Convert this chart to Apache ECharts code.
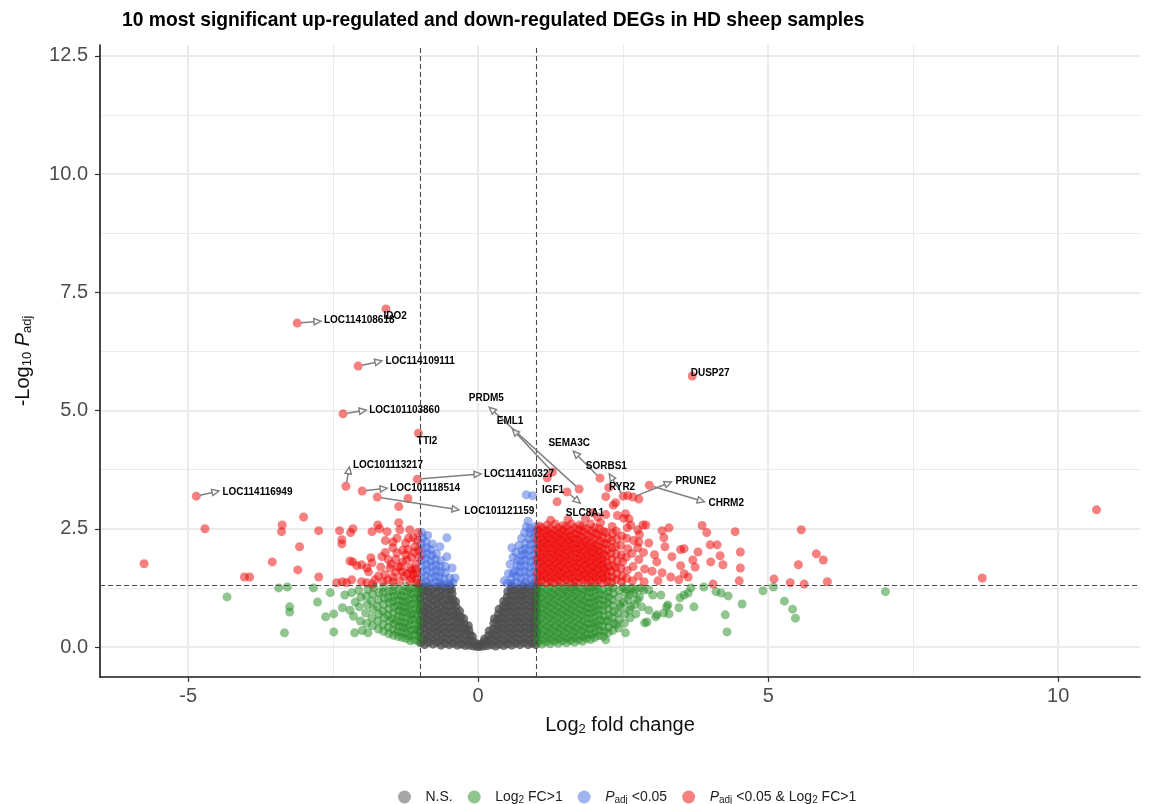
<!DOCTYPE html>
<html><head><meta charset="utf-8">
<script src="https://cdn.jsdelivr.net/npm/echarts@6/dist/echarts.min.js"></script>
<style>html,body{margin:0;padding:0;background:#fff}#c{width:1154px;height:804px}</style>
</head><body><div id="c"></div>
<script>
// ---------- axis ticks / cut-offs ----------
const xMajorTicks = [-5, 0, 5, 10];
const xMinorTicks = [-2.5, 2.5, 7.5];
const yMajorTicks = [0, 2.5, 5, 7.5, 10, 12.5];
const yMinorTicks = [1.25, 3.75, 6.25, 8.75, 11.25];
const fcCutoffs = [-1, 1];
const pCutoff = 1.301;

// ---------- N.S. (grey) ----------
const nsPoints = [
[-0.99,0.09],[-0.98,0.21],[-1.0,0.33],[-0.98,0.44],[-0.99,0.56],[-0.97,0.68],[-0.99,0.79],[-0.98,0.91],[-1.0,1.03],[-0.98,1.14],[-0.99,1.26],
[-0.92,0.05],[-0.93,0.16],[-0.91,0.27],[-0.92,0.39],[-0.94,0.5],[-0.91,0.62],[-0.93,0.74],[-0.92,0.85],[-0.9,0.97],[-0.93,1.08],[-0.92,1.2],[-0.91,1.29],
[-0.85,0.1],[-0.86,0.22],[-0.84,0.34],[-0.85,0.45],[-0.87,0.57],[-0.84,0.69],[-0.86,0.8],[-0.85,0.92],[-0.83,1.04],[-0.86,1.16],[-0.85,1.27],
[-0.78,0.06],[-0.79,0.17],[-0.77,0.29],[-0.78,0.4],[-0.8,0.52],[-0.77,0.63],[-0.79,0.75],[-0.78,0.87],[-0.76,0.98],[-0.79,1.1],[-0.78,1.22],
[-0.71,0.1],[-0.72,0.21],[-0.7,0.33],[-0.71,0.45],[-0.73,0.56],[-0.7,0.68],[-0.72,0.8],[-0.71,0.91],[-0.69,1.03],[-0.72,1.15],[-0.71,1.27],
[-0.64,0.04],[-0.65,0.15],[-0.63,0.27],[-0.64,0.38],[-0.66,0.5],[-0.63,0.62],[-0.65,0.73],[-0.64,0.85],[-0.62,0.96],[-0.65,1.08],[-0.64,1.2],[-0.63,1.29],
[-0.57,0.08],[-0.58,0.19],[-0.56,0.31],[-0.57,0.43],[-0.59,0.54],[-0.56,0.66],[-0.58,0.77],[-0.57,0.89],[-0.55,1.01],[-0.58,1.13],[-0.57,1.25],
[-0.5,0.05],[-0.51,0.16],[-0.49,0.28],[-0.5,0.39],[-0.52,0.51],[-0.49,0.63],[-0.51,0.74],[-0.5,0.86],[-0.48,0.98],[-0.51,1.1],[-0.5,1.22],[-0.49,1.29],
[-0.43,0.08],[-0.44,0.2],[-0.42,0.31],[-0.43,0.43],[-0.45,0.55],[-0.42,0.66],[-0.44,0.78],[-0.43,0.9],[-0.44,1.01],[-0.45,1.13],[-0.46,1.22],
[-0.36,0.04],[-0.37,0.15],[-0.35,0.27],[-0.36,0.39],[-0.38,0.5],[-0.36,0.62],[-0.37,0.73],[-0.38,0.85],[-0.39,0.96],
[-0.29,0.06],[-0.3,0.18],[-0.28,0.3],[-0.29,0.41],[-0.31,0.53],[-0.3,0.64],[-0.32,0.76],
[-0.22,0.03],[-0.23,0.14],[-0.21,0.26],[-0.22,0.37],[-0.24,0.49],[-0.25,0.6],
[-0.15,0.04],[-0.16,0.15],[-0.14,0.26],[-0.16,0.36],[-0.17,0.45],
[-0.08,0.02],[-0.09,0.12],[-0.1,0.22],[-0.02,0.01],[-0.03,0.07],
[0.03,0.01],[0.04,0.06],[0.09,0.02],[0.1,0.1],[0.11,0.17],
[0.16,0.03],[0.17,0.13],[0.18,0.24],[0.19,0.34],
[0.23,0.05],[0.24,0.16],[0.25,0.27],[0.26,0.38],[0.27,0.5],[0.28,0.6],
[0.3,0.02],[0.31,0.13],[0.32,0.24],[0.33,0.36],[0.33,0.47],[0.34,0.59],[0.35,0.7],[0.36,0.8],
[0.37,0.06],[0.38,0.17],[0.39,0.29],[0.4,0.4],[0.4,0.52],[0.41,0.63],[0.42,0.75],[0.43,0.86],[0.44,0.97],
[0.44,0.03],[0.45,0.14],[0.46,0.26],[0.46,0.37],[0.47,0.49],[0.47,0.6],[0.48,0.72],[0.49,0.83],[0.49,0.95],[0.5,1.06],[0.51,1.17],
[0.51,0.07],[0.52,0.18],[0.53,0.3],[0.53,0.41],[0.54,0.53],[0.54,0.64],[0.55,0.76],[0.55,0.87],[0.56,0.99],[0.56,1.1],[0.57,1.22],[0.58,1.29],
[0.58,0.04],[0.59,0.15],[0.6,0.27],[0.6,0.38],[0.61,0.5],[0.61,0.61],[0.62,0.73],[0.62,0.84],[0.63,0.96],[0.63,1.07],[0.64,1.19],
[0.65,0.08],[0.66,0.19],[0.66,0.31],[0.67,0.42],[0.67,0.54],[0.68,0.65],[0.68,0.77],[0.69,0.88],[0.69,1.0],[0.7,1.11],[0.7,1.23],
[0.72,0.05],[0.73,0.16],[0.73,0.28],[0.74,0.39],[0.74,0.51],[0.75,0.62],[0.75,0.74],[0.76,0.85],[0.76,0.97],[0.77,1.08],[0.77,1.2],[0.78,1.29],
[0.79,0.09],[0.8,0.2],[0.8,0.32],[0.81,0.43],[0.81,0.55],[0.82,0.66],[0.82,0.78],[0.83,0.89],[0.83,1.01],[0.84,1.12],[0.84,1.24],
[0.86,0.05],[0.87,0.16],[0.87,0.28],[0.88,0.39],[0.88,0.51],[0.89,0.62],[0.89,0.74],[0.9,0.85],[0.9,0.97],[0.91,1.08],[0.91,1.2],[0.92,1.29],
[0.93,0.08],[0.94,0.19],[0.94,0.31],[0.95,0.42],[0.95,0.54],[0.96,0.65],[0.96,0.77],[0.97,0.88],[0.97,1.0],[0.98,1.11],[0.98,1.23],
[0.99,0.05],[0.99,0.16],[1.0,0.28],[0.99,0.39],[1.0,0.51],[0.99,0.62],[1.0,0.74],[0.99,0.85],[1.0,0.97],[0.99,1.08],[1.0,1.2],[0.99,1.28]
];

// ---------- Log2 FC > 1 (green) ----------
const fcPoints = [
[1.03,0.1],[1.04,0.21],[1.02,0.32],[1.05,0.43],[1.03,0.54],[1.02,0.65],[1.04,0.76],[1.03,0.87],[1.05,0.98],[1.02,1.09],[1.04,1.2],[1.03,1.28],
[1.1,0.06],[1.11,0.16],[1.09,0.27],[1.12,0.38],[1.1,0.49],[1.09,0.6],[1.11,0.71],[1.1,0.82],[1.12,0.93],[1.09,1.04],[1.11,1.15],[1.1,1.26],
[1.17,0.11],[1.18,0.22],[1.16,0.33],[1.19,0.44],[1.17,0.55],[1.16,0.66],[1.18,0.77],[1.17,0.88],[1.19,0.99],[1.16,1.1],[1.18,1.21],
[1.24,0.07],[1.25,0.17],[1.23,0.28],[1.26,0.39],[1.24,0.5],[1.23,0.61],[1.25,0.72],[1.24,0.83],[1.26,0.94],[1.23,1.05],[1.25,1.16],[1.24,1.27],
[1.31,0.12],[1.32,0.23],[1.3,0.34],[1.33,0.45],[1.31,0.56],[1.3,0.67],[1.32,0.78],[1.31,0.89],[1.33,1.0],[1.3,1.11],[1.32,1.22],
[1.38,0.08],[1.39,0.18],[1.37,0.29],[1.4,0.4],[1.38,0.51],[1.37,0.62],[1.39,0.73],[1.38,0.84],[1.4,0.95],[1.37,1.06],[1.39,1.17],[1.38,1.28],
[1.45,0.13],[1.46,0.24],[1.44,0.35],[1.47,0.46],[1.45,0.57],[1.44,0.68],[1.46,0.79],[1.45,0.9],[1.47,1.01],[1.44,1.12],[1.46,1.23],
[1.52,0.09],[1.53,0.19],[1.51,0.3],[1.54,0.41],[1.52,0.52],[1.51,0.63],[1.53,0.74],[1.52,0.85],[1.54,0.96],[1.51,1.07],[1.53,1.18],[1.52,1.28],
[1.59,0.14],[1.6,0.25],[1.58,0.36],[1.61,0.47],[1.59,0.58],[1.58,0.69],[1.6,0.8],[1.59,0.91],[1.61,1.02],[1.58,1.13],[1.6,1.24],
[1.66,0.1],[1.67,0.2],[1.65,0.31],[1.68,0.42],[1.66,0.53],[1.65,0.64],[1.67,0.75],[1.66,0.86],[1.68,0.97],[1.65,1.08],[1.67,1.19],[1.66,1.28],
[1.73,0.15],[1.74,0.26],[1.72,0.37],[1.75,0.48],[1.73,0.59],[1.72,0.7],[1.74,0.81],[1.73,0.92],[1.75,1.03],[1.72,1.14],[1.74,1.25],
[1.8,0.12],[1.81,0.22],[1.79,0.33],[1.82,0.44],[1.8,0.55],[1.79,0.66],[1.81,0.77],[1.8,0.88],[1.82,0.99],[1.79,1.1],[1.81,1.21],
[1.87,0.18],[1.88,0.28],[1.86,0.39],[1.89,0.5],[1.87,0.61],[1.86,0.72],[1.88,0.83],[1.87,0.94],[1.89,1.05],[1.86,1.16],[1.88,1.27],
[1.94,0.16],[1.95,0.27],[1.93,0.38],[1.96,0.49],[1.94,0.6],[1.93,0.71],[1.95,0.82],[1.94,0.93],[1.96,1.04],[1.93,1.15],[1.95,1.25],
[2.01,0.2],[2.02,0.31],[2.0,0.42],[2.03,0.53],[2.01,0.64],[2.0,0.75],[2.02,0.86],[2.01,0.97],[2.03,1.08],[2.0,1.19],[2.02,1.28],
[2.08,0.24],[2.09,0.35],[2.07,0.46],[2.1,0.57],[2.08,0.68],[2.07,0.79],[2.09,0.9],[2.08,1.01],[2.1,1.12],[2.07,1.23],
[2.16,0.22],[2.17,0.33],[2.15,0.44],[2.18,0.55],[2.16,0.66],[2.15,0.77],[2.17,0.88],[2.16,0.99],[2.18,1.1],[2.15,1.21],
[2.24,0.3],[2.25,0.42],[2.23,0.55],[2.26,0.68],[2.24,0.8],[2.23,0.93],[2.25,1.05],[2.24,1.17],[2.26,1.27],
[2.32,0.35],[2.33,0.5],[2.31,0.62],[2.34,0.75],[2.32,0.88],[2.31,1.0],[2.33,1.13],[2.32,1.25],
[2.42,0.4],[2.43,0.58],[2.41,0.72],[2.44,0.9],[2.42,1.05],[2.43,1.2],[2.46,0.85],[2.38,0.48],
[2.52,0.5],[2.53,0.7],[2.51,0.95],[2.54,1.15],[2.5,1.27],[2.58,1.0],[2.6,0.78],[2.56,1.22],
[2.62,0.62],[2.63,0.85],[2.61,1.1],[2.65,1.25],[2.72,0.7],[2.74,1.0],[2.71,1.22],[2.68,1.15],[2.7,0.9],[2.78,1.05],[2.82,0.85],[2.85,1.2],
[2.54,0.3],[2.87,0.51],[2.91,0.53],[3.08,0.68],[3.2,0.72],[3.25,0.85],[3.29,0.7],[3.46,0.83],[3.72,0.85],[3.48,1.04],
[3.55,1.1],[3.62,1.14],[3.67,1.25],[3.89,1.27],[4.1,1.17],[4.19,1.14],[4.31,1.08],[4.55,0.91],[4.26,0.68],[4.29,0.32],
[4.91,1.19],[5.09,1.27],[5.28,0.97],[5.42,0.8],[5.47,0.61],[7.02,1.17],[2.8,1.25],[2.94,1.21],[3.01,1.1],[3.15,1.1],
[3.27,0.89],[3.06,0.64],[2.94,0.78],[2.2,0.15],
[-1.03,0.12],[-1.02,0.23],[-1.04,0.34],[-1.03,0.45],[-1.02,0.56],[-1.04,0.67],[-1.03,0.78],[-1.02,0.89],[-1.04,1.0],[-1.03,1.11],[-1.02,1.22],[-1.04,1.29],
[-1.1,0.15],[-1.11,0.26],[-1.09,0.37],[-1.1,0.48],[-1.12,0.59],[-1.1,0.7],[-1.09,0.81],[-1.11,0.92],[-1.1,1.03],[-1.12,1.14],[-1.1,1.25],
[-1.17,0.13],[-1.18,0.24],[-1.16,0.35],[-1.19,0.46],[-1.17,0.57],[-1.16,0.68],[-1.18,0.79],[-1.17,0.9],[-1.19,1.01],[-1.16,1.12],[-1.18,1.23],
[-1.24,0.18],[-1.25,0.29],[-1.23,0.4],[-1.26,0.51],[-1.24,0.62],[-1.23,0.73],[-1.25,0.84],[-1.24,0.95],[-1.26,1.06],[-1.23,1.17],[-1.25,1.28],
[-1.31,0.2],[-1.32,0.31],[-1.3,0.42],[-1.33,0.53],[-1.31,0.64],[-1.3,0.75],[-1.32,0.86],[-1.31,0.97],[-1.33,1.08],[-1.3,1.19],
[-1.38,0.22],[-1.39,0.33],[-1.37,0.44],[-1.4,0.55],[-1.38,0.66],[-1.37,0.77],[-1.39,0.88],[-1.38,0.99],[-1.4,1.1],[-1.37,1.21],
[-1.46,0.25],[-1.47,0.37],[-1.45,0.49],[-1.48,0.6],[-1.46,0.72],[-1.45,0.84],[-1.47,0.96],[-1.46,1.07],[-1.48,1.19],[-1.45,1.28],
[-1.54,0.28],[-1.55,0.42],[-1.53,0.55],[-1.56,0.68],[-1.54,0.8],[-1.53,0.93],[-1.55,1.05],[-1.54,1.18],
[-1.63,0.33],[-1.64,0.47],[-1.62,0.62],[-1.65,0.76],[-1.63,0.9],[-1.62,1.03],[-1.64,1.16],[-1.63,1.27],
[-1.72,0.38],[-1.73,0.55],[-1.71,0.7],[-1.74,0.86],[-1.72,1.0],[-1.71,1.15],
[-1.82,0.45],[-1.83,0.62],[-1.81,0.8],[-1.84,0.97],[-1.82,1.12],[-1.8,1.26],
[-1.92,0.5],[-1.94,0.72],[-1.91,0.9],[-1.93,1.08],[-1.9,1.22],
[-2.03,0.55],[-2.05,0.85],[-2.02,1.05],[-2.06,1.2],[-2.15,0.65],[-2.12,0.95],[-2.18,1.15],
[-2.13,0.3],[-2.21,0.78],[-2.34,0.83],[-2.49,0.32],[-2.49,0.7],[-2.63,0.64],[-2.77,0.95],[-2.84,1.25],[-3.25,0.85],
[-3.25,0.74],[-3.34,0.3],[-3.44,1.25],[-3.29,1.27],[-4.33,1.06],[-2.3,1.1],[-2.55,1.15],[-1.9,0.3],[-2.0,0.35]
];

// ---------- P adj < 0.05 (blue) ----------
const pPoints = [
[-0.97,1.35],[-0.98,1.47],[-0.96,1.59],[-0.97,1.71],[-0.98,1.83],[-0.96,1.95],[-0.97,2.07],[-0.98,2.19],[-0.96,2.31],[-0.97,2.42],
[-0.89,1.38],[-0.9,1.5],[-0.88,1.62],[-0.89,1.74],[-0.9,1.86],[-0.88,1.98],[-0.89,2.1],[-0.9,2.22],[-0.87,2.36],
[-0.81,1.34],[-0.82,1.46],[-0.8,1.58],[-0.81,1.7],[-0.82,1.82],[-0.8,1.94],[-0.81,2.06],[-0.79,2.18],
[-0.73,1.37],[-0.74,1.49],[-0.72,1.61],[-0.73,1.73],[-0.74,1.85],[-0.72,1.97],
[-0.66,1.35],[-0.67,1.47],[-0.65,1.59],[-0.66,1.71],[-0.64,1.83],[-0.66,2.12],
[-0.58,1.33],[-0.59,1.45],[-0.57,1.57],[-0.56,1.7],[-0.54,1.91],[-0.54,2.31],
[-0.5,1.34],[-0.49,1.46],[-0.45,1.67],[-0.4,1.46],[-0.44,1.36],
[0.97,1.35],[0.98,1.47],[0.96,1.59],[0.97,1.71],[0.98,1.83],[0.96,1.95],[0.97,2.07],[0.98,2.19],[0.96,2.31],[0.97,2.43],[0.98,2.55],
[0.89,1.33],[0.9,1.45],[0.88,1.57],[0.89,1.69],[0.9,1.81],[0.88,1.93],[0.89,2.05],[0.9,2.17],[0.88,2.29],[0.89,2.41],[0.9,2.5],
[0.81,1.36],[0.82,1.48],[0.8,1.6],[0.81,1.72],[0.82,1.84],[0.8,1.96],[0.81,2.08],[0.82,2.2],[0.8,2.42],[0.83,2.54],
[0.73,1.34],[0.74,1.46],[0.72,1.58],[0.73,1.7],[0.74,1.82],[0.75,1.94],[0.76,2.05],[0.75,2.3],
[0.65,1.37],[0.66,1.49],[0.64,1.61],[0.67,1.73],[0.68,1.84],[0.65,2.0],[0.7,2.15],
[0.57,1.34],[0.58,1.46],[0.6,1.57],[0.55,1.75],[0.6,1.9],[0.58,2.1],
[0.5,1.35],[0.45,1.4],[0.52,1.55],
[0.83,3.22],[0.94,3.2],[0.86,2.66]
];

// ---------- P adj < 0.05 & Log2 FC > 1 (red) ----------
const bothPoints = [
[1.03,1.37],[1.04,1.47],[1.02,1.57],[1.05,1.67],[1.03,1.77],[1.02,1.87],[1.04,1.97],[1.03,2.07],[1.05,2.17],[1.02,2.27],[1.04,2.37],[1.03,2.47],[1.05,2.56],
[1.1,1.41],[1.11,1.51],[1.09,1.61],[1.12,1.71],[1.1,1.81],[1.09,1.91],[1.11,2.01],[1.1,2.11],[1.12,2.21],[1.09,2.31],[1.11,2.41],[1.1,2.52],
[1.17,1.36],[1.18,1.46],[1.16,1.56],[1.19,1.66],[1.17,1.76],[1.16,1.86],[1.18,1.96],[1.17,2.06],[1.19,2.16],[1.16,2.26],[1.18,2.36],[1.17,2.46],[1.19,2.58],
[1.24,1.4],[1.25,1.5],[1.23,1.6],[1.26,1.7],[1.24,1.8],[1.23,1.9],[1.25,2.0],[1.24,2.1],[1.26,2.2],[1.23,2.3],[1.25,2.4],[1.24,2.5],
[1.31,1.36],[1.32,1.46],[1.3,1.56],[1.33,1.66],[1.31,1.76],[1.3,1.86],[1.32,1.96],[1.31,2.06],[1.33,2.16],[1.3,2.26],[1.32,2.36],[1.31,2.46],[1.33,2.6],
[1.38,1.41],[1.39,1.51],[1.37,1.61],[1.4,1.71],[1.38,1.81],[1.37,1.91],[1.39,2.01],[1.38,2.11],[1.4,2.21],[1.37,2.31],[1.39,2.41],[1.38,2.52],
[1.45,1.37],[1.46,1.47],[1.44,1.57],[1.47,1.67],[1.45,1.77],[1.44,1.87],[1.46,1.97],[1.45,2.07],[1.47,2.17],[1.44,2.27],[1.46,2.37],[1.45,2.47],[1.47,2.57],
[1.52,1.42],[1.53,1.52],[1.51,1.62],[1.54,1.72],[1.52,1.82],[1.51,1.92],[1.53,2.02],[1.52,2.12],[1.54,2.22],[1.51,2.32],[1.53,2.42],[1.52,2.54],
[1.59,1.36],[1.6,1.46],[1.58,1.56],[1.61,1.66],[1.59,1.76],[1.58,1.86],[1.6,1.96],[1.59,2.06],[1.61,2.16],[1.58,2.26],[1.6,2.36],[1.59,2.46],[1.61,2.6],
[1.66,1.4],[1.67,1.5],[1.65,1.6],[1.68,1.7],[1.66,1.8],[1.65,1.9],[1.67,2.0],[1.66,2.1],[1.68,2.2],[1.65,2.3],[1.67,2.4],[1.66,2.52],
[1.73,1.37],[1.74,1.47],[1.72,1.57],[1.75,1.67],[1.73,1.77],[1.72,1.87],[1.74,1.97],[1.73,2.07],[1.75,2.17],[1.72,2.27],[1.74,2.37],[1.73,2.48],[1.75,2.58],
[1.8,1.42],[1.81,1.52],[1.79,1.62],[1.82,1.72],[1.8,1.82],[1.79,1.92],[1.81,2.02],[1.8,2.12],[1.82,2.22],[1.79,2.32],[1.81,2.44],[1.8,2.55],
[1.87,1.36],[1.88,1.46],[1.86,1.56],[1.89,1.66],[1.87,1.76],[1.86,1.86],[1.88,1.96],[1.87,2.06],[1.89,2.16],[1.86,2.26],[1.88,2.38],[1.87,2.5],
[1.94,1.41],[1.95,1.51],[1.93,1.61],[1.96,1.71],[1.94,1.81],[1.93,1.91],[1.95,2.01],[1.94,2.11],[1.96,2.21],[1.93,2.33],[1.95,2.45],[1.94,2.6],
[2.01,1.37],[2.02,1.47],[2.0,1.57],[2.03,1.67],[2.01,1.77],[2.0,1.87],[2.02,1.97],[2.01,2.07],[2.03,2.17],[2.0,2.28],[2.02,2.4],[2.01,2.52],
[2.08,1.42],[2.09,1.52],[2.07,1.62],[2.1,1.72],[2.08,1.82],[2.07,1.92],[2.09,2.02],[2.08,2.12],[2.1,2.24],[2.07,2.36],[2.09,2.5],
[2.15,1.36],[2.16,1.46],[2.14,1.56],[2.17,1.66],[2.15,1.76],[2.14,1.86],[2.16,1.96],[2.15,2.07],[2.17,2.19],[2.14,2.32],[2.16,2.45],
[2.22,1.4],[2.23,1.5],[2.21,1.6],[2.24,1.7],[2.22,1.8],[2.21,1.92],[2.23,2.05],[2.22,2.18],[2.24,2.3],[2.21,2.42],
[2.3,1.37],[2.31,1.48],[2.29,1.6],[2.32,1.72],[2.3,1.85],[2.29,1.98],[2.31,2.1],[2.3,2.25],[2.32,2.4],[2.31,2.55],
[2.38,1.42],[2.39,1.55],[2.37,1.68],[2.4,1.82],[2.38,1.96],[2.37,2.12],[2.39,2.28],[2.38,2.45],
[2.47,1.38],[2.48,1.5],[2.46,1.66],[2.49,1.8],[2.47,1.95],[2.46,2.15],[2.48,2.35],
[2.56,1.45],[2.57,1.62],[2.55,1.9],[2.58,2.08],[2.56,2.3],[2.57,2.52],
[2.66,1.4],[2.67,1.7],[2.65,1.98],[2.68,2.25],[2.76,1.5],[2.77,1.85],[2.75,2.1],[2.78,2.38],[2.86,1.38],[2.87,1.65],[2.85,2.0],
[1.97,2.84],[2.06,2.75],[2.2,2.8],[2.4,2.78],[2.54,2.82],[2.6,2.71],[2.84,2.58],[3.29,2.52],[3.86,2.57],[2.11,2.63],
[2.51,2.72],[2.63,2.58],[2.75,2.48],[2.89,2.58],[2.94,2.2],[2.77,2.22],[1.19,3.58],[2.25,3.37],[2.2,3.18],[2.37,3.05],
[2.77,3.13],[2.58,3.2],[1.25,2.68],[1.55,2.7],[1.85,2.72],
[3.17,2.46],[3.2,2.31],[3.22,2.12],[3.49,2.06],[3.55,2.08],[3.79,2.01],[4.0,2.16],[4.12,2.16],[4.52,2.01],[3.34,1.91],
[3.04,1.95],[3.08,1.8],[3.7,1.84],[3.74,1.69],[3.49,1.72],[3.55,1.55],[4.01,1.8],[4.17,1.93],[4.22,1.74],[4.52,1.67],
[3.17,1.57],[3.32,1.48],[3.46,1.42],[3.62,1.48],[4.05,1.33],[4.5,1.4],[3.94,2.42],[4.43,2.44],[5.1,1.44],[5.38,1.36],
[5.62,1.33],[5.52,1.74],[5.83,1.97],[5.95,1.84],[5.57,2.48],[6.02,1.38],[8.69,1.46],[10.66,2.9],[3.0,1.6],[3.1,1.4],
[-2.44,1.36],[-2.34,1.38],[-2.27,1.36],[-2.21,1.82],[-2.16,1.8],[-2.09,1.72],[-2.01,1.74],[-1.92,1.67],[-1.83,2.44],[-1.73,2.58],
[-1.7,2.5],[-1.57,2.44],[-1.85,1.89],[-1.83,1.78],[-1.89,1.59],[-1.66,1.91],[-1.68,1.69],[-1.61,1.53],[-1.37,2.63],[-1.35,2.48],
[-1.47,2.22],[-1.47,2.1],[-1.4,1.99],[-1.52,1.67],[-1.18,2.48],[-1.12,2.31],[-1.09,2.12],[-1.04,2.42],[-1.21,2.06],[-1.23,1.84],
[-1.18,1.67],[-1.12,1.53],[-1.06,1.57],[-1.38,1.69],[-1.31,1.59],[-1.47,1.48],[-1.56,1.42],[-2.18,1.42],[-2.01,1.38],[-1.92,1.36],
[-1.82,1.33],[-1.64,1.38],[-1.47,1.38],[-1.35,1.4],[-1.18,1.4],[-1.06,1.44],[-1.21,3.14],[-1.37,2.97],[-2.75,2.46],[-2.75,1.48],
[-2.39,2.46],[-2.2,2.42],[-2.16,2.5],[-2.35,2.27],[-2.35,2.18],[-3.01,2.75],[-5.76,1.76],[-4.71,2.5],[-4.03,1.48],[-3.94,1.48],
[-3.55,1.8],[-3.38,2.58],[-3.39,2.44],[-3.11,1.63],[-3.08,2.12],
[-1.3,1.8],[-1.25,1.95],[-1.15,1.9],[-1.08,1.75],[-1.1,2.0],[-1.28,1.5],[-1.22,1.55],[-1.42,1.58],[-1.15,1.45],[-1.05,1.35],
[-1.3,2.05],[-1.05,2.25],[-1.25,2.2],[-1.55,1.85],[-1.6,2.0],[-1.5,1.75],[-1.08,1.65],[-1.15,1.62],[-1.33,1.7],[-1.42,1.85],
[-1.02,1.9],[-1.03,2.05],[-1.72,1.5],[-1.78,1.42],[-1.4,2.3],[-1.2,2.3],[-1.6,2.25]
];

// ---------- the 20 labelled genes ----------
const labelGenes = ['LOC114108618','IDO2','LOC114109111','LOC101103860','TTI2','LOC101113217','LOC101118514','LOC114110327','LOC101121159','LOC114116949',
                    'DUSP27','PRDM5','EML1','SEMA3C','SORBS1','RYR2','IGF1','SLC8A1','PRUNE2','CHRM2'];
const labelX = [-3.12,-1.59,-2.07,-2.33,-1.03,-2.28,-2.0,-1.05,-1.74,-4.86, 3.69,1.74,1.28,2.1,2.5,2.33,1.36,1.53,2.67,2.95];
const labelY = [6.85,7.15,5.94,4.93,4.52,3.40,3.30,3.55,3.17,3.19, 5.73,3.34,3.70,3.57,3.19,3.00,3.07,3.28,3.17,3.42];
// annotation layout (data units): arrow head end (null = no arrow) and text anchor
const arrowEndX = [-2.71,null,-1.66,-1.93,null,-2.22,-1.57,0.05,-0.33,-4.47, null,0.19,0.59,1.64,2.26,null,null,1.76,3.33,3.9];
const arrowEndY = [6.89,null,6.05,5.01,null,3.81,3.36,3.66,2.9,3.3, null,5.07,4.61,4.14,3.66,null,null,3.04,3.49,3.07];
const textX = [-2.66,-1.43,-1.6,-1.88,-0.88,-2.16,-1.52,0.1,-0.24,-4.41, 4.0,0.14,0.55,1.57,2.21,2.48,1.29,1.84,3.4,3.97];
const textY = [6.91,7.0,6.05,5.01,4.36,3.85,3.36,3.66,2.88,3.28, 5.79,5.26,4.78,4.31,3.83,3.38,3.32,2.83,3.51,3.04];
const textAlign = ['left','center','left','left','center','left','left','left','left','left',
                   'center','center','center','center','center','center','center','center','left','left'];

const F = '"Liberation Sans", Arial, Helvetica, sans-serif';
const chart = echarts.init(document.getElementById('c'), null, {renderer: 'canvas'});

function gridLine(axis, v, w) { const o = {lineStyle: {width: w}}; o[axis] = v; return o; }

function renderAnn(params, api) {
  const i = params.dataIndex;
  const p = api.coord([api.value(0), api.value(1)]);
  const t = api.coord([textX[i], textY[i]]);
  const kids = [];
  if (arrowEndX[i] !== null) {
    const e = api.coord([arrowEndX[i], arrowEndY[i]]);
    let dx = e[0] - p[0], dy = e[1] - p[1];
    const L = Math.hypot(dx, dy) || 1; dx /= L; dy /= L;
    const s = [p[0] + dx * 4, p[1] + dy * 4];
    const hl = 7, hw = 3.2;
    const b = [e[0] - dx * hl, e[1] - dy * hl];
    kids.push({type: 'line', shape: {x1: s[0], y1: s[1], x2: b[0], y2: b[1]},
               style: {stroke: '#7f7f7f', lineWidth: 1.5}});
    kids.push({type: 'polygon', shape: {points: [[e[0], e[1]], [b[0] - dy * hw, b[1] + dx * hw], [b[0] + dy * hw, b[1] - dx * hw]]},
               style: {stroke: '#7f7f7f', fill: 'rgba(255,255,255,0.7)', lineWidth: 1.4}});
  }
  kids.push({type: 'text', x: t[0], y: t[1],
             style: {text: labelGenes[i], fill: '#000', font: 'bold 10px ' + F, align: textAlign[i], verticalAlign: 'middle'}});
  return {type: 'group', children: kids};
}

const subRich = {
  s: {fontSize: 13, fontFamily: F, color: '#111', padding: [9, 0, 0, 0]},
  i: {fontSize: 20, fontFamily: F, color: '#111', fontStyle: 'italic'}
};

const option = {
  animation: false,
  backgroundColor: '#fff',
  title: {text: '10 most significant up-regulated and down-regulated DEGs in HD sheep samples',
          left: 117, top: 6, textStyle: {fontFamily: F, fontWeight: 'bold', fontSize: 19.3, color: '#000'}},
  grid: {left: 100, right: 14, top: 45, bottom: 127},
  xAxis: {
    type: 'value', min: -6.52, max: 11.41,
    splitLine: {show: false},
    axisLine: {onZero: false, lineStyle: {color: '#1a1a1a', width: 1.6}},
    axisTick: {customValues: xMajorTicks, length: 5, lineStyle: {color: '#333', width: 1.2}},
    axisLabel: {customValues: xMajorTicks, fontSize: 20, color: '#4d4d4d', margin: 9, fontFamily: F},
    name: 'Log{s|2} fold change', nameLocation: 'middle', nameGap: 37,
    nameTextStyle: {fontSize: 20, fontFamily: F, color: '#111', rich: subRich}
  },
  yAxis: {
    type: 'value', min: -0.634, max: 12.73,
    splitLine: {show: false},
    axisLine: {show: true, onZero: false, lineStyle: {color: '#1a1a1a', width: 1.6}},
    axisTick: {show: true, customValues: yMajorTicks, length: 5, lineStyle: {color: '#333', width: 1.2}},
    axisLabel: {customValues: yMajorTicks, fontSize: 20, color: '#4d4d4d', margin: 12, fontFamily: F,
                formatter: v => v.toFixed(1)},
    name: '-Log{s|10} {i|P}{s|adj}', nameLocation: 'middle', nameGap: 66, nameRotate: 90,
    nameTextStyle: {fontSize: 20, fontFamily: F, color: '#111', rich: subRich}
  },
  legend: {
    left: 393, top: 785, orient: 'horizontal', itemWidth: 32, itemHeight: 13, itemGap: 15,
    icon: 'circle',
    textStyle: {fontSize: 14, fontFamily: F, color: '#222',
      rich: {s: {fontSize: 10, fontFamily: F, color: '#222', padding: [6, 0, 0, 0]},
             i: {fontSize: 14, fontFamily: F, color: '#222', fontStyle: 'italic'}}},
    formatter: function (n) {
      if (n === 'Log2 FC>1') return 'Log{s|2} FC>1';
      if (n === 'Padj <0.05') return '{i|P}{s|adj} <0.05';
      if (n === 'Padj <0.05 & Log2 FC>1') return '{i|P}{s|adj} <0.05 & Log{s|2} FC>1';
      return n;
    },
    data: [
      {name: 'N.S.', itemStyle: {opacity: 0.5}},
      {name: 'Log2 FC>1', itemStyle: {opacity: 0.5}},
      {name: 'Padj <0.05', itemStyle: {opacity: 0.5}},
      {name: 'Padj <0.05 & Log2 FC>1', itemStyle: {opacity: 0.5}}
    ]
  },
  series: [
    {name: '_grid', type: 'scatter', data: [], silent: true, z: 0,
     markLine: {z: 0, silent: true, symbol: 'none', animation: false, label: {show: false},
       lineStyle: {color: '#EBEBEB', type: 'solid'},
       data: [].concat(
         xMajorTicks.map(v => gridLine('xAxis', v, 2)), xMinorTicks.map(v => gridLine('xAxis', v, 1)),
         yMajorTicks.map(v => gridLine('yAxis', v, 2)), yMinorTicks.map(v => gridLine('yAxis', v, 1)))}},
    {name: 'N.S.', type: 'scatter', data: nsPoints, symbolSize: 9, z: 2,
     itemStyle: {color: '#4D4D4D', opacity: 0.75}},
    {name: 'Log2 FC>1', type: 'scatter', data: fcPoints, symbolSize: 9, z: 2,
     itemStyle: {color: '#228B22', opacity: 0.5}},
    {name: 'Padj <0.05', type: 'scatter', data: pPoints, symbolSize: 9, z: 2,
     itemStyle: {color: '#4169E1', opacity: 0.5}},
    {name: 'Padj <0.05 & Log2 FC>1', type: 'scatter',
     data: bothPoints.concat(labelX.map((x, i) => [x, labelY[i]])), symbolSize: 9, z: 2,
     itemStyle: {color: '#EE0000', opacity: 0.5}},
    {name: '_cut', type: 'scatter', data: [], silent: true, z: 4,
     markLine: {z: 4, silent: true, symbol: 'none', animation: false, label: {show: false},
       lineStyle: {color: '#4a4a4a', type: [5, 3], width: 1.1},
       data: fcCutoffs.map(v => ({xAxis: v})).concat([{yAxis: pCutoff}])}},
    {name: '_labels', type: 'custom', z: 6, silent: true, clip: false,
     data: labelX.map((x, i) => [x, labelY[i]]), encode: {x: 0, y: 1},
     renderItem: renderAnn}
  ]
};
chart.setOption(option);
</script>
</body></html>
